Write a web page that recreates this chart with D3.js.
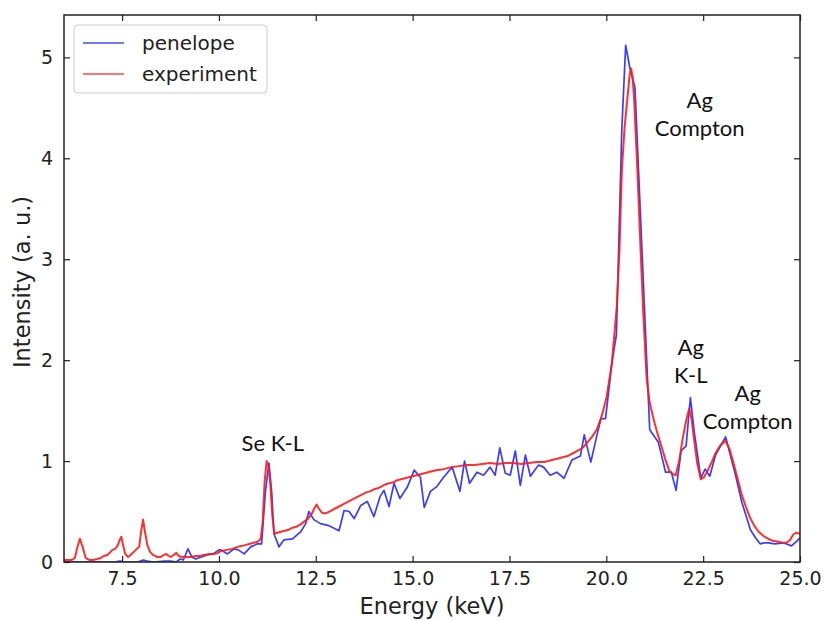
<!DOCTYPE html>
<html>
<head>
<meta charset="utf-8">
<script src="https://cdn.jsdelivr.net/npm/d3@7"></script>
<style>
  html, body { margin: 0; padding: 0; background: #fff; }
  svg { display: block; }
</style>
</head>
<body>
<svg id="chart" width="825" height="621"></svg>
<script>
// ---------------- data ----------------
const expEnergy = [6.00,6.10,6.20,6.28,6.34,6.41,6.48,6.56,6.65,6.75,6.86,6.95,7.03,7.12,7.20,7.25,7.32,7.38,7.44,7.48,7.53,7.58,7.65,7.72,7.80,7.88,7.94,7.99,8.04,8.09,8.15,8.22,8.30,8.40,8.50,8.58,8.64,8.70,8.76,8.83,8.90,8.96,9.05,9.15,9.26,9.40,9.50,9.61,9.75,9.87,9.97,10.05,10.20,10.35,10.48,10.60,10.70,10.80,10.90,11.00,11.08,11.13,11.18,11.23,11.28,11.33,11.38,11.43,11.50,11.60,11.70,11.80,11.90,12.00,12.10,12.20,12.30,12.40,12.46,12.52,12.58,12.65,12.72,12.80,12.90,13.00,13.10,13.20,13.30,13.40,13.50,13.60,13.70,13.80,13.90,14.00,14.10,14.20,14.30,14.40,14.50,14.60,14.70,14.80,14.90,15.00,15.20,15.40,15.60,15.80,16.00,16.20,16.40,16.60,16.80,17.00,17.20,17.40,17.60,17.80,18.00,18.20,18.40,18.60,18.80,19.00,19.15,19.30,19.41,19.50,19.63,19.75,19.84,19.92,20.01,20.14,20.27,20.34,20.40,20.47,20.53,20.60,20.64,20.68,20.72,20.80,20.87,20.95,21.04,21.12,21.21,21.30,21.42,21.52,21.63,21.72,21.79,21.88,21.97,22.06,22.14,22.20,22.27,22.35,22.44,22.52,22.61,22.72,22.82,22.95,23.08,23.18,23.29,23.40,23.50,23.61,23.72,23.82,23.93,24.05,24.18,24.30,24.44,24.55,24.65,24.75,24.82,24.90,25.00];
const expIntensity = [0.02,0.02,0.02,0.04,0.14,0.23,0.15,0.04,0.02,0.02,0.03,0.04,0.06,0.07,0.10,0.12,0.13,0.16,0.22,0.25,0.16,0.08,0.05,0.07,0.10,0.13,0.15,0.30,0.42,0.30,0.17,0.10,0.07,0.05,0.05,0.07,0.08,0.06,0.05,0.07,0.09,0.06,0.05,0.05,0.05,0.06,0.06,0.07,0.08,0.08,0.09,0.11,0.12,0.13,0.15,0.16,0.17,0.18,0.19,0.20,0.23,0.40,0.80,1.00,0.95,0.75,0.45,0.28,0.29,0.30,0.31,0.32,0.34,0.35,0.37,0.40,0.43,0.48,0.53,0.57,0.53,0.49,0.48,0.49,0.51,0.53,0.55,0.57,0.59,0.61,0.63,0.65,0.67,0.69,0.70,0.72,0.73,0.75,0.77,0.78,0.79,0.81,0.82,0.83,0.84,0.85,0.87,0.89,0.91,0.92,0.94,0.95,0.96,0.96,0.97,0.98,0.97,0.98,0.98,0.97,0.98,0.99,0.99,1.01,1.03,1.05,1.08,1.11,1.14,1.18,1.24,1.31,1.40,1.50,1.64,1.96,2.53,3.10,3.87,4.30,4.54,4.82,4.89,4.80,4.57,3.90,3.23,2.50,1.82,1.58,1.43,1.30,1.15,1.02,0.90,0.87,0.86,1.00,1.22,1.40,1.52,1.42,1.20,0.97,0.82,0.84,0.90,0.99,1.08,1.16,1.20,1.12,0.97,0.81,0.66,0.54,0.43,0.36,0.30,0.26,0.23,0.21,0.20,0.19,0.19,0.22,0.27,0.29,0.28];

const simEnergy = [6.00,7.00,7.30,7.45,7.55,7.90,8.05,8.15,8.30,8.60,8.75,8.90,9.00,9.08,9.20,9.30,9.40,9.55,9.70,9.85,10.00,10.05,10.22,10.39,10.50,10.65,10.82,11.00,11.10,11.20,11.29,11.36,11.42,11.55,11.68,11.90,12.11,12.24,12.32,12.45,12.62,12.84,13.10,13.23,13.36,13.49,13.66,13.83,14.00,14.16,14.26,14.39,14.52,14.67,14.86,15.04,15.20,15.30,15.46,15.63,15.80,16.02,16.22,16.34,16.47,16.66,16.83,17.00,17.13,17.25,17.39,17.52,17.65,17.78,17.91,18.04,18.25,18.38,18.55,18.72,18.91,19.11,19.33,19.43,19.60,19.76,19.86,19.98,20.14,20.26,20.40,20.50,20.61,20.74,21.12,21.34,21.53,21.68,21.80,21.93,22.06,22.17,22.27,22.44,22.55,22.67,22.82,23.08,23.33,23.50,23.72,23.85,23.97,24.08,24.18,24.35,24.57,24.78,24.90,25.00];
const simIntensity = [0.00,0.00,0.00,0.01,0.00,0.00,0.02,0.01,0.00,0.01,0.01,0.00,0.03,0.02,0.13,0.05,0.03,0.05,0.07,0.08,0.12,0.12,0.08,0.13,0.12,0.08,0.15,0.18,0.18,0.70,0.98,0.70,0.28,0.15,0.22,0.23,0.30,0.38,0.50,0.42,0.38,0.36,0.31,0.51,0.50,0.43,0.56,0.60,0.45,0.65,0.71,0.55,0.78,0.63,0.74,0.91,0.84,0.54,0.70,0.75,0.84,0.94,0.70,1.00,0.78,0.89,0.86,0.94,0.86,1.13,0.88,0.86,1.10,0.76,1.06,0.85,0.96,0.94,0.86,0.89,0.83,1.01,1.05,1.26,0.99,1.26,1.42,1.42,1.96,2.25,4.29,5.12,4.89,4.70,1.31,1.19,0.89,0.89,0.71,1.10,1.15,1.63,1.29,0.83,0.92,0.85,1.06,1.24,0.87,0.59,0.32,0.24,0.18,0.19,0.19,0.18,0.19,0.16,0.20,0.24];

const xTickValues = [7.5, 10.0, 12.5, 15.0, 17.5, 20.0, 22.5, 25.0];
const yTickValues = [0, 1, 2, 3, 4, 5];
const seriesNames = ["penelope", "experiment"];
const seriesColors = ["#1a1aff", "#ff1a1a"];
const annotations = [
  { lines: ["Se K-L"], x: 11.39, y: 1.1 },
  { lines: ["Ag", "Compton"], x: 22.41, y: 4.5 },
  { lines: ["Ag", "K-L"], x: 22.18, y: 2.05 },
  { lines: ["Ag", "Compton"], x: 23.65, y: 1.6 }
];

// ---------------- layout ----------------
const svg = d3.select("#chart");
const L = 64, R = 800, T = 15, B = 562;
const x = d3.scaleLinear().domain([6, 25]).range([L, R]);
const y = d3.scaleLinear().domain([0, 5.42]).range([B, T]);

const tickFont = "DejaVu Sans, sans-serif";

svg.append("defs").append("clipPath").attr("id", "plotclip")
  .append("rect").attr("x", L).attr("y", T).attr("width", R - L).attr("height", B - T);

const simData = simEnergy.map((e, i) => [e, simIntensity[i]]);
const expData = expEnergy.map((e, i) => [e, expIntensity[i]]);
const line = d3.line().x(d => x(d[0])).y(d => y(d[1]));

const g = svg.append("g").attr("clip-path", "url(#plotclip)");
g.append("path").datum(simData).attr("d", line)
  .attr("fill", "none").attr("stroke", seriesColors[0]).attr("stroke-opacity", 0.85)
  .attr("stroke-width", 1.7).attr("stroke-linejoin", "round");
g.append("path").datum(expData).attr("d", line)
  .attr("fill", "none").attr("stroke", seriesColors[1]).attr("stroke-opacity", 0.9)
  .attr("stroke-width", 2).attr("stroke-linejoin", "round");

function styleAxis(sel) {
  sel.select(".domain").remove();
  sel.selectAll(".tick line").attr("stroke", "#222").attr("stroke-width", 1.2);
  sel.selectAll(".tick text").attr("fill", "#222").attr("font-family", tickFont).attr("font-size", 19);
}
svg.append("g").attr("transform", `translate(0,${B})`)
  .call(d3.axisBottom(x).tickValues(xTickValues).tickFormat(d3.format(".1f")).tickSizeInner(-6).tickSizeOuter(0).tickPadding(10))
  .call(styleAxis);
svg.append("g").attr("transform", `translate(0,${T})`)
  .call(d3.axisTop(x).tickValues(xTickValues).tickFormat("").tickSizeInner(-6).tickSizeOuter(0))
  .call(styleAxis);
svg.append("g").attr("transform", `translate(${L},0)`)
  .call(d3.axisLeft(y).tickValues(yTickValues).tickFormat(d3.format("d")).tickSizeInner(-6).tickSizeOuter(0).tickPadding(11))
  .call(styleAxis);
svg.append("g").attr("transform", `translate(${R},0)`)
  .call(d3.axisRight(y).tickValues(yTickValues).tickFormat("").tickSizeInner(-6).tickSizeOuter(0))
  .call(styleAxis);

svg.append("rect").attr("x", L).attr("y", T).attr("width", R - L).attr("height", B - T)
  .attr("fill", "none").attr("stroke", "#222").attr("stroke-width", 1.5);

svg.append("text").attr("x", 432).attr("y", 614).attr("text-anchor", "middle")
  .attr("font-family", tickFont).attr("font-size", 22.5).attr("fill", "#222").text("Energy (keV)");
svg.append("text").attr("transform", `translate(30,282) rotate(-90)`).attr("text-anchor", "middle")
  .attr("font-family", tickFont).attr("font-size", 22.5).attr("fill", "#222").text("Intensity (a. u.)");

const annFont = "Lato, 'Open Sans', sans-serif";
annotations.forEach(a => {
  const t = svg.append("text").attr("text-anchor", "middle")
    .attr("font-family", annFont).attr("font-size", 22).attr("fill", "#111");
  a.lines.forEach((s, i) => {
    t.append("tspan").attr("x", x(a.x)).attr("y", y(a.y) + i * 28).text(s);
  });
});

const lg = svg.append("g");
lg.append("rect").attr("x", 74).attr("y", 25).attr("width", 193).attr("height", 68).attr("rx", 4)
  .attr("fill", "#fff").attr("fill-opacity", 0.8).attr("stroke", "#ccc").attr("stroke-width", 1);
seriesNames.forEach((n, i) => {
  const yy = 43 + i * 31;
  lg.append("line").attr("x1", 83).attr("x2", 124).attr("y1", yy).attr("y2", yy)
    .attr("stroke", seriesColors[i]).attr("stroke-opacity", 0.8).attr("stroke-width", 1.7);
  lg.append("text").attr("x", 142).attr("y", yy + 7).attr("font-family", tickFont)
    .attr("font-size", 20).attr("fill", "#222").text(n);
});
</script>
</body>
</html>
